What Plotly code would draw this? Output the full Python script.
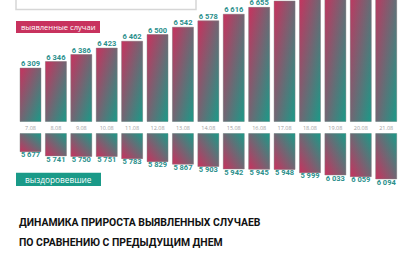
import plotly.graph_objects as go

# ---- data ----
dates = ["7.08", "8.08", "9.08", "10.08", "11.08", "12.08", "13.08", "14.08",
         "15.08", "16.08", "17.08", "18.08", "19.08", "20.08", "21.08"]
detected = [6309, 6346, 6386, 6423, 6462, 6500, 6542, 6578, 6616, 6655,
            6691, 6730, 6768, 6806, 6845]
recovered = [5677, 5741, 5750, 5751, 5783, 5829, 5867, 5903, 5942, 5945,
             5948, 5999, 6033, 6059, 6094]
label_detected = "выявленные случаи"
label_recovered = "выздоровевшие"
title_lines = ["ДИНАМИКА ПРИРОСТА ВЫЯВЛЕННЫХ СЛУЧАЕВ",
               "ПО СРАВНЕНИЮ С ПРЕДЫДУЩИМ ДНЕМ"]

W, H = 414, 256
RED = "#c8325e"
TEAL = "#1a9a88"
RED_A = "rgba(200,50,94,0.5)"
TEAL_A = "rgba(26,154,136,0.5)"
LABEL = "#2b8f8c"

TOP_BASE, TOP_MAX = 6003, 6697
BOT_BASE, BOT_MAX = 5396, 6262
HALF = 0.413

fig = go.Figure()


def add_bar(i, v, base, xa, ya, red_at_min):
    xs = [i - HALF, i + HALF, i + HALF, i - HALF, i - HALF]
    ys = [base, base, v, v, base]
    vscale = [[0, RED], [1, TEAL]] if red_at_min else [[0, TEAL], [1, RED]]
    fig.add_trace(go.Scatter(
        x=xs, y=ys, xaxis=xa, yaxis=ya, mode="lines", fill="toself",
        line=dict(width=0), hoverinfo="skip", showlegend=False,
        fillgradient=dict(type="vertical", colorscale=vscale)))
    fig.add_trace(go.Scatter(
        x=xs, y=ys, xaxis=xa, yaxis=ya, mode="lines", fill="toself",
        line=dict(width=0.8, color="rgba(130,130,130,0.55)"),
        hoverinfo="skip", showlegend=False,
        fillgradient=dict(type="horizontal",
                          colorscale=[[0, RED_A], [1, TEAL_A]])))


for i, v in enumerate(detected):
    add_bar(i, v, TOP_BASE, "x", "y", False)
for i, v in enumerate(recovered):
    add_bar(i, v, BOT_BASE, "x2", "y2", True)

fmt = lambda n: f"{n:,}".replace(",", " ")

fig.add_trace(go.Scatter(
    x=list(range(len(dates))), y=detected, xaxis="x", yaxis="y",
    mode="text", text=[fmt(v) for v in detected], textposition="top center",
    textfont=dict(family="Roboto", size=7.5, color=LABEL, weight="bold"),
    cliponaxis=False, showlegend=False, hoverinfo="skip"))
fig.add_trace(go.Scatter(
    x=list(range(len(dates))), y=recovered, xaxis="x2", yaxis="y2",
    mode="text", text=[fmt(v) for v in recovered], textposition="bottom center",
    textfont=dict(family="Roboto", size=7.5, color=LABEL, weight="bold"),
    cliponaxis=False, showlegend=False, hoverinfo="skip"))

xdom = [17.8 / W, 398.9 / W]
fig.update_layout(
    width=W, height=H, margin=dict(l=0, r=0, t=0, b=0),
    paper_bgcolor="white", plot_bgcolor="white",
    xaxis=dict(domain=xdom, range=[-0.5, len(dates) - 0.5],
               tickvals=list(range(len(dates))), ticktext=dates,
               tickfont=dict(family="Open Sans", size=5.5, color="#a0a0a0"),
               showgrid=False, zeroline=False, showline=False, ticks="",
               ticklabelstandoff=2,
               anchor="y", fixedrange=True),
    yaxis=dict(domain=[1 - 121.7 / H, 1], range=[TOP_BASE, TOP_MAX],
               visible=False, fixedrange=True),
    xaxis2=dict(domain=xdom, range=[-0.5, len(dates) - 0.5],
                showticklabels=False, showgrid=False, zeroline=False,
                showline=False, ticks="", anchor="y2", fixedrange=True),
    yaxis2=dict(domain=[1 - 190 / H, 1 - 133.3 / H], range=[BOT_MAX, BOT_BASE],
                visible=False, fixedrange=True),
    showlegend=False,
)


def px(x):
    return x / W


def py(y):
    return 1 - y / H


shapes = [
    dict(type="rect", xref="paper", yref="paper", x0=px(16), x1=px(196),
         y0=py(9.5), y1=py(-5), line=dict(color="#d6d6d6", width=1.5),
         fillcolor="white", layer="above"),
    dict(type="rect", xref="paper", yref="paper", x0=px(16), x1=px(100),
         y0=py(33), y1=py(21), line=dict(width=0), fillcolor=RED),
    dict(type="rect", xref="paper", yref="paper", x0=px(16), x1=px(101),
         y0=py(186), y1=py(172.7), line=dict(width=0), fillcolor=TEAL),
]
fig.update_layout(shapes=shapes)

TFONT = "Roboto, sans-serif"
anns = [
    dict(text=label_detected, x=px(58), y=py(27.3), xanchor="center",
         yanchor="middle", font=dict(family="Open Sans", size=7.6, color="white")),
    dict(text=label_recovered, x=px(58.5), y=py(179.6), xanchor="center",
         yanchor="middle", font=dict(family="Open Sans", size=8.3, color="white")),
    dict(text=title_lines[0], x=px(17), y=py(222), xanchor="left",
         yanchor="middle",
         font=dict(family=TFONT, size=10.4, color="#111111", weight="bold")),
    dict(text=title_lines[1], x=px(17), y=py(242), xanchor="left",
         yanchor="middle",
         font=dict(family=TFONT, size=10.4, color="#111111", weight="bold")),
]
for a in anns:
    a.update(xref="paper", yref="paper", showarrow=False)
fig.update_layout(annotations=anns)

fig.write_html("out.html")
